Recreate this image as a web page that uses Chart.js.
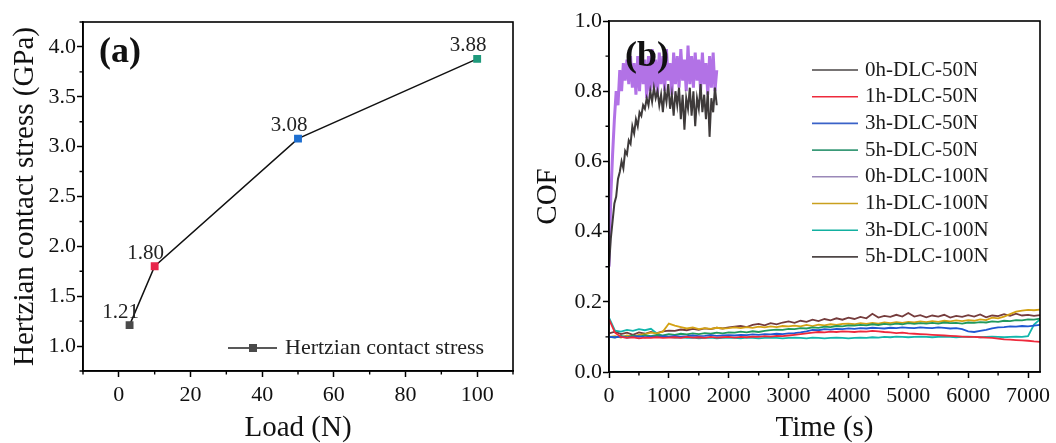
<!DOCTYPE html>
<html>
<head>
<meta charset="utf-8">
<script src="https://cdn.jsdelivr.net/npm/chart.js@4.4.1/dist/chart.umd.min.js"></script>
<style>
body{margin:0;background:#fff;width:1056px;height:443px;overflow:hidden;position:relative}
#cajaA{position:absolute;left:0;top:0;width:530px;height:443px}
#cajaB{position:absolute;left:530px;top:0;width:526px;height:443px}
</style>
</head>
<body>
<div id="cajaA"><canvas id="graficaA" width="530" height="443"></canvas></div>
<div id="cajaB"><canvas id="graficaB" width="526" height="443"></canvas></div>
<script>
"use strict";

const fuente = "'Liberation Serif', 'Times New Roman', serif";

// ---- panel (a): tension de contacto vs carga ----
const cargas = [3, 10, 50, 100];
const tensiones = [1.21, 1.80, 3.08, 3.88];
const coloresPuntos = ["#4a4a4a", "#e8254a", "#1e6fd0", "#1f9a7c"];
const ticksCargaX = [0, 20, 40, 60, 80, 100];
const ticksTensionY = [1.0, 1.5, 2.0, 2.5, 3.0, 3.5, 4.0];
const menoresCargaX = [-10, 10, 30, 50, 70, 90, 110];
const menoresTensionY = [0.75, 1.25, 1.75, 2.25, 2.75, 3.25, 3.75, 4.25];

// ---- panel (b): COF vs tiempo ----
const ticksTiempoX = [0, 1000, 2000, 3000, 4000, 5000, 6000, 7000];
const ticksCofY = [0.0, 0.2, 0.4, 0.6, 0.8, 1.0];
const menoresTiempoX = [500, 1500, 2500, 3500, 4500, 5500, 6500];
const menoresCofY = [0.1, 0.3, 0.5, 0.7, 0.9];

// tiempos de los ensayos cortos (0h, hasta 1800 s)
const tiempoCorto = [0, 30, 60, 90, 120, 150, 180, 210, 240, 270,
  300, 330, 360, 390, 420, 450, 480, 510, 540, 570,
  600, 630, 660, 690, 720, 750, 780, 810, 840, 870,
  900, 930, 960, 990, 1020, 1050, 1080, 1110, 1140, 1170,
  1200, 1230, 1260, 1290, 1320, 1350, 1380, 1410, 1440, 1470,
  1500, 1530, 1560, 1590, 1620, 1650, 1680, 1710, 1740, 1770, 1800];

// tiempos de los ensayos largos (hasta 7200 s)
const tiempoLargo = [0, 100, 200, 300, 400, 500, 600, 700, 800, 900, 1000,
  1100, 1200, 1300, 1400, 1500, 1600, 1700, 1800, 1900, 2000,
  2100, 2200, 2300, 2400, 2500, 2600, 2700, 2800, 2900, 3000,
  3100, 3200, 3300, 3400, 3500, 3600, 3700, 3800, 3900, 4000,
  4100, 4200, 4300, 4400, 4500, 4600, 4700, 4800, 4900, 5000,
  5100, 5200, 5300, 5400, 5500, 5600, 5700, 5800, 5900, 6000,
  6100, 6200, 6300, 6400, 6500, 6600, 6700, 6800, 6900, 7000,
  7100, 7200];

const cof0h50 = [0.30, 0.38, 0.43, 0.48, 0.50, 0.55, 0.57, 0.60, 0.58, 0.63,
  0.62, 0.66, 0.65, 0.70, 0.68, 0.72, 0.70, 0.74, 0.73, 0.76,
  0.75, 0.78, 0.76, 0.80, 0.77, 0.81, 0.78, 0.80, 0.76, 0.79,
  0.74, 0.80, 0.77, 0.82, 0.75, 0.79, 0.73, 0.80, 0.76, 0.81,
  0.72, 0.79, 0.69, 0.78, 0.75, 0.81, 0.73, 0.80, 0.70, 0.78,
  0.75, 0.82, 0.74, 0.79, 0.72, 0.80, 0.67, 0.78, 0.74, 0.81, 0.76];

const cof1h50 = [0.150, 0.112, 0.100, 0.097, 0.099, 0.096, 0.098, 0.097, 0.099, 0.097, 0.098,
  0.099, 0.097, 0.100, 0.098, 0.099, 0.097, 0.100, 0.098, 0.099, 0.100,
  0.098, 0.100, 0.099, 0.101, 0.100, 0.102, 0.101, 0.103, 0.102, 0.104,
  0.106, 0.108, 0.110, 0.112, 0.114, 0.113, 0.115, 0.114, 0.116, 0.115,
  0.114, 0.116, 0.115, 0.117, 0.116, 0.114, 0.113, 0.111, 0.112, 0.110,
  0.109, 0.108, 0.107, 0.106, 0.105, 0.104, 0.103, 0.102, 0.101, 0.100,
  0.100, 0.099, 0.098, 0.097, 0.095, 0.093, 0.092, 0.091, 0.090, 0.089,
  0.087, 0.086];

const cof3h50 = [0.100, 0.099, 0.101, 0.098, 0.100, 0.102, 0.099, 0.101, 0.100, 0.102, 0.101,
  0.103, 0.101, 0.102, 0.104, 0.102, 0.103, 0.105, 0.103, 0.104, 0.105,
  0.104, 0.106, 0.105, 0.107, 0.106, 0.108, 0.107, 0.109, 0.108, 0.110,
  0.111, 0.113, 0.116, 0.120, 0.119, 0.122, 0.121, 0.123, 0.122, 0.124,
  0.123, 0.125, 0.124, 0.126, 0.125, 0.124, 0.126, 0.125, 0.127, 0.126,
  0.125, 0.127, 0.126, 0.125, 0.127, 0.126, 0.124, 0.125, 0.122, 0.116,
  0.114, 0.117, 0.120, 0.124, 0.127, 0.128, 0.130, 0.129, 0.131, 0.130,
  0.132, 0.134];

const cof5h50 = [0.100, 0.098, 0.103, 0.099, 0.104, 0.100, 0.105, 0.102, 0.106, 0.104, 0.108,
  0.106, 0.109, 0.107, 0.110, 0.108, 0.111, 0.109, 0.112, 0.110, 0.113,
  0.112, 0.115, 0.113, 0.116, 0.114, 0.117, 0.119, 0.121, 0.120, 0.123,
  0.122, 0.125, 0.124, 0.127, 0.126, 0.129, 0.128, 0.131, 0.130, 0.133,
  0.132, 0.134, 0.133, 0.136, 0.134, 0.137, 0.135, 0.138, 0.136, 0.139,
  0.137, 0.139, 0.138, 0.140, 0.138, 0.141, 0.139, 0.140, 0.138, 0.141,
  0.140, 0.142, 0.141, 0.144, 0.143, 0.146, 0.145, 0.148, 0.147, 0.150,
  0.149, 0.152];

const cof0h100 = [0.30, 0.50, 0.62, 0.72, 0.80, 0.76, 0.86, 0.80, 0.88, 0.83,
  0.89, 0.82, 0.90, 0.81, 0.88, 0.79, 0.90, 0.80, 0.91, 0.82,
  0.89, 0.78, 0.90, 0.80, 0.92, 0.81, 0.89, 0.79, 0.91, 0.82,
  0.90, 0.80, 0.92, 0.83, 0.88, 0.79, 0.91, 0.82, 0.90, 0.81,
  0.92, 0.83, 0.89, 0.80, 0.93, 0.82, 0.90, 0.81, 0.91, 0.83,
  0.89, 0.80, 0.91, 0.82, 0.88, 0.79, 0.90, 0.81, 0.91, 0.80, 0.86];

const cof1h100 = [0.100, 0.102, 0.098, 0.104, 0.100, 0.106, 0.108, 0.112, 0.110, 0.115, 0.138,
  0.132, 0.128, 0.124, 0.127, 0.122, 0.125, 0.123, 0.126, 0.124, 0.125,
  0.127, 0.125, 0.128, 0.126, 0.129, 0.127, 0.130, 0.128, 0.131, 0.130,
  0.132, 0.130, 0.134, 0.131, 0.135, 0.133, 0.136, 0.134, 0.137, 0.138,
  0.136, 0.139, 0.137, 0.140, 0.138, 0.141, 0.139, 0.142, 0.140, 0.143,
  0.141, 0.144, 0.142, 0.145, 0.143, 0.146, 0.144, 0.147, 0.145, 0.148,
  0.146, 0.150, 0.148, 0.155, 0.153, 0.158, 0.165, 0.172, 0.175, 0.177,
  0.176, 0.178];

const cof3h100 = [0.155, 0.118, 0.115, 0.120, 0.117, 0.122, 0.119, 0.123, 0.110, 0.102, 0.100,
  0.098, 0.099, 0.097, 0.098, 0.096, 0.097, 0.098, 0.096, 0.097, 0.098,
  0.097, 0.096, 0.098, 0.097, 0.096, 0.097, 0.098, 0.097, 0.096, 0.097,
  0.098, 0.097, 0.096, 0.098, 0.097, 0.096, 0.097, 0.098, 0.097, 0.096,
  0.097, 0.098, 0.097, 0.099, 0.098, 0.100, 0.099, 0.101, 0.100, 0.099,
  0.100, 0.101, 0.100, 0.099, 0.100, 0.101, 0.100, 0.099, 0.100, 0.101,
  0.100, 0.099, 0.100, 0.101, 0.100, 0.099, 0.100, 0.101, 0.100, 0.102,
  0.135, 0.150];

const cof5h100 = [0.110, 0.115, 0.108, 0.112, 0.106, 0.113, 0.109, 0.114, 0.111, 0.116, 0.118,
  0.117, 0.121, 0.119, 0.123, 0.120, 0.124, 0.122, 0.126, 0.124, 0.127,
  0.129, 0.131, 0.128, 0.134, 0.137, 0.133, 0.139, 0.136, 0.141, 0.144,
  0.140, 0.146, 0.143, 0.149, 0.145, 0.151, 0.147, 0.153, 0.149, 0.155,
  0.151, 0.157, 0.153, 0.166, 0.155, 0.160, 0.157, 0.163, 0.158, 0.168,
  0.158, 0.162, 0.156, 0.161, 0.158, 0.163, 0.155, 0.160, 0.157, 0.162,
  0.158, 0.164, 0.156, 0.161, 0.159, 0.165, 0.160, 0.166, 0.161, 0.163,
  0.160, 0.162];

const nombresSeries = ["0h-DLC-50N", "1h-DLC-50N", "3h-DLC-50N", "5h-DLC-50N",
  "0h-DLC-100N", "1h-DLC-100N", "3h-DLC-100N", "5h-DLC-100N"];
const valoresSeries = [cof0h50, cof1h50, cof3h50, cof5h50, cof0h100, cof1h100, cof3h100, cof5h100];
const tiemposSeries = [tiempoCorto, tiempoLargo, tiempoLargo, tiempoLargo, tiempoCorto, tiempoLargo, tiempoLargo, tiempoLargo];
const coloresSeries = ["#3e3a3a", "#ee2a3c", "#1f58d2", "#20995e", "#b272e6", "#d4a214", "#12b6ac", "#753c3c"];
const grosoresSeries = [2, 1.8, 1.8, 1.8, 3, 1.8, 1.8, 1.8];
const coloresLeyenda = ["#4a4646", "#ee2a3c", "#3a62c8", "#3a9a78", "#9a88b8", "#c9a01e", "#12b0a0", "#4e4646"];

// marco completo + ticks menores hacia afuera
function hacerMarco(menoresX, menoresY) {
  return {
    id: "marco",
    afterDraw(chart) {
      const c = chart.ctx;
      const a = chart.chartArea;
      const sx = chart.scales.x;
      const sy = chart.scales.y;
      c.save();
      c.strokeStyle = "#000";
      c.lineWidth = 1.6;
      c.strokeRect(a.left, a.top, a.right - a.left, a.bottom - a.top);
      c.lineWidth = 1.4;
      c.beginPath();
      menoresX.forEach(v => {
        const px = sx.getPixelForValue(v);
        c.moveTo(px, a.bottom);
        c.lineTo(px, a.bottom + 3.5);
      });
      menoresY.forEach(v => {
        const py = sy.getPixelForValue(v);
        c.moveTo(a.left, py);
        c.lineTo(a.left - 3.5, py);
      });
      c.stroke();
      c.restore();
    }
  };
}

function ejeX(min, max, ticks, titulo, alto) {
  return {
    type: "linear", min: min, max: max,
    afterBuildTicks: s => { s.ticks = ticks.map(v => ({ value: v })); },
    afterFit: s => { s.height = alto; },
    grid: { drawOnChartArea: false, tickLength: 6, tickWidth: 1.5, tickColor: "#000" },
    border: { color: "#000", width: 1.6 },
    ticks: { color: "#111", padding: 5, maxRotation: 0, font: { family: fuente, size: 22 }, callback: v => String(v) },
    title: { display: true, text: titulo, color: "#111", padding: { top: 0, bottom: 0 }, font: { family: fuente, size: 29, lineHeight: 1 } }
  };
}

function ejeY(min, max, ticks, titulo, ancho, padTitulo) {
  return {
    type: "linear", min: min, max: max,
    afterBuildTicks: s => { s.ticks = ticks.map(v => ({ value: v })); },
    afterFit: s => { s.width = ancho; },
    grid: { drawOnChartArea: false, tickLength: 6, tickWidth: 1.5, tickColor: "#000" },
    border: { color: "#000", width: 1.6 },
    ticks: { color: "#111", padding: 1, font: { family: fuente, size: 22 }, callback: v => v.toFixed(1) },
    title: { display: true, text: titulo, color: "#111", padding: { top: padTitulo, bottom: 0 }, font: { family: fuente, size: 29, lineHeight: 1 } }
  };
}

// etiquetas de valor, leyenda y letra del panel (a)
const extrasA = {
  id: "extrasA",
  afterDatasetsDraw(chart) {
    const c = chart.ctx;
    const a = chart.chartArea;
    const puntos = chart.getDatasetMeta(0).data;
    c.save();
    c.fillStyle = "#222";
    c.textAlign = "center";
    c.textBaseline = "middle";
    c.font = "21px " + fuente;
    puntos.forEach((p, i) => {
      c.fillText(tensiones[i].toFixed(2), p.x - 9, p.y - 13);
    });
    // leyenda
    const ly = a.bottom - 23;
    c.strokeStyle = "#222";
    c.lineWidth = 1.5;
    c.beginPath();
    c.moveTo(a.left + 145, ly);
    c.lineTo(a.left + 194, ly);
    c.stroke();
    c.fillStyle = "#4a4a4a";
    c.fillRect(a.left + 166, ly - 4, 8, 8);
    c.fillStyle = "#222";
    c.textAlign = "left";
    c.font = "22px " + fuente;
    c.fillText("Hertzian contact stress", a.left + 202, ly);
    // letra
    c.font = "bold 36px " + fuente;
    c.fillStyle = "#111";
    c.fillText("(a)", a.left + 16, a.top + 31);
    c.restore();
  }
};

const extrasB = {
  id: "extrasB",
  afterDatasetsDraw(chart) {
    const c = chart.ctx;
    const a = chart.chartArea;
    c.save();
    // letra, encima de las curvas como en la figura
    c.font = "bold 36px " + fuente;
    c.fillStyle = "#111";
    c.textBaseline = "middle";
    c.fillText("(b)", a.left + 16, a.top + 36);
    // leyenda
    c.font = "21px " + fuente;
    c.lineWidth = 1.6;
    nombresSeries.forEach((n, i) => {
      const y = a.top + 49 + i * 26.7;
      c.strokeStyle = coloresLeyenda[i];
      c.beginPath();
      c.moveTo(a.left + 203, y);
      c.lineTo(a.left + 249, y);
      c.stroke();
      c.fillStyle = "#1a1a1a";
      c.fillText(n, a.left + 256, y);
    });
    c.restore();
  }
};

new Chart(document.getElementById("graficaA").getContext("2d"), {
  type: "line",
  data: {
    datasets: [{
      label: "Hertzian contact stress",
      data: cargas.map((x, i) => ({ x: x, y: tensiones[i] })),
      borderColor: "#111",
      borderWidth: 1.5,
      pointStyle: "rect",
      pointRadius: 4.5,
      pointBackgroundColor: coloresPuntos,
      pointBorderColor: coloresPuntos,
      fill: false
    }]
  },
  options: {
    responsive: false,
    animation: false,
    layout: { padding: { top: 22, right: 17, left: 0, bottom: 0 } },
    plugins: { legend: { display: false }, tooltip: { enabled: false } },
    scales: {
      x: ejeX(-10, 110, ticksCargaX, "Load (N)", 72),
      y: ejeY(0.75, 4.25, ticksTensionY, "Hertzian contact stress (GPa)", 83, 11)
    }
  },
  plugins: [hacerMarco(menoresCargaX, menoresTensionY), extrasA]
});

new Chart(document.getElementById("graficaB").getContext("2d"), {
  type: "line",
  data: {
    datasets: nombresSeries.map((n, k) => ({
      label: n,
      data: tiemposSeries[k].map((t, i) => ({ x: t, y: valoresSeries[k][i] })),
      borderColor: coloresSeries[k],
      borderWidth: grosoresSeries[k],
      pointRadius: 0,
      fill: false
    }))
  },
  options: {
    responsive: false,
    animation: false,
    layout: { padding: { top: 21, right: 16, left: 0, bottom: 0 } },
    plugins: { legend: { display: false }, tooltip: { enabled: false } },
    scales: {
      x: ejeX(0, 7200, ticksTiempoX, "Time (s)", 71),
      y: ejeY(0, 1, ticksCofY, "COF", 79, 4)
    }
  },
  plugins: [hacerMarco(menoresTiempoX, menoresCofY), extrasB]
});
</script>
</body>
</html>
